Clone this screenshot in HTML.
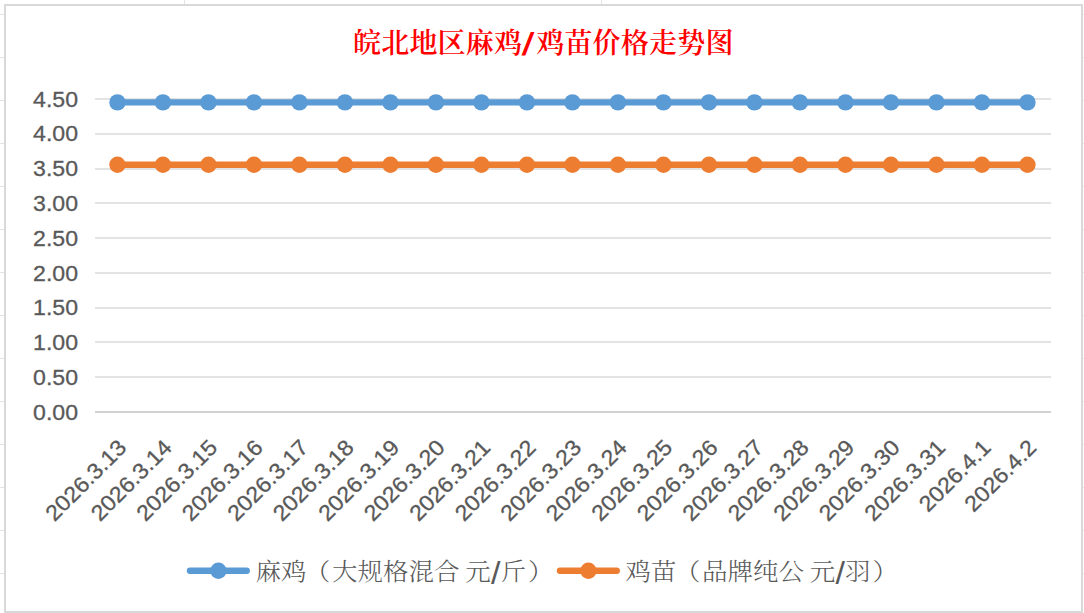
<!DOCTYPE html>
<html lang="zh-CN"><head><meta charset="utf-8"><title>皖北地区麻鸡/鸡苗价格走势图</title>
<style>html,body{margin:0;padding:0;background:#fff;overflow:hidden}svg{display:block}.ax{font-family:"Liberation Sans","Noto Sans CJK SC",sans-serif;fill:#595959;stroke:#595959;stroke-width:.3px}.ti{font-family:"Liberation Serif","Noto Serif CJK SC",serif;font-weight:600;fill:#FF0000}.sl{font-family:"Liberation Sans",sans-serif;font-weight:700;font-style:italic;font-size:32px}.lsl{font-family:"Liberation Sans",sans-serif;font-size:32px}.lg{font-family:"Liberation Serif","Noto Serif CJK SC",serif;font-weight:300;fill:#595959}</style></head><body>
<svg width="1084" height="613" viewBox="0 0 1084 613">
<rect x="0" y="0" width="1084" height="613" fill="#fff"/>
<g stroke="#E4E4E4" stroke-width="1" shape-rendering="crispEdges">
<line x1="0" y1="14.5" x2="1084" y2="14.5"/>
<line x1="0" y1="57.5" x2="1084" y2="57.5"/>
<line x1="0" y1="100.5" x2="1084" y2="100.5"/>
<line x1="0" y1="143.5" x2="1084" y2="143.5"/>
<line x1="0" y1="186.5" x2="1084" y2="186.5"/>
<line x1="0" y1="229.5" x2="1084" y2="229.5"/>
<line x1="0" y1="272.5" x2="1084" y2="272.5"/>
<line x1="0" y1="315.5" x2="1084" y2="315.5"/>
<line x1="0" y1="358.5" x2="1084" y2="358.5"/>
<line x1="0" y1="401.5" x2="1084" y2="401.5"/>
<line x1="0" y1="444.5" x2="1084" y2="444.5"/>
<line x1="0" y1="487.5" x2="1084" y2="487.5"/>
<line x1="0" y1="530.5" x2="1084" y2="530.5"/>
<line x1="0" y1="573.5" x2="1084" y2="573.5"/>
<line x1="0" y1="616.5" x2="1084" y2="616.5"/>
<line x1="184.5" y1="0" x2="184.5" y2="5"/>
<line x1="601.5" y1="0" x2="601.5" y2="5"/>
</g>
<rect x="5" y="5" width="1077" height="607" fill="#fff" stroke="#D9D9D9" stroke-width="2"/>
<g shape-rendering="crispEdges">
<rect x="95" y="411" width="956" height="2" fill="#D2D2D2"/>
<rect x="95" y="376" width="956" height="2" fill="#E3E3E3"/>
<rect x="95" y="341" width="956" height="2" fill="#E3E3E3"/>
<rect x="95" y="307" width="956" height="2" fill="#E3E3E3"/>
<rect x="95" y="272" width="956" height="2" fill="#E3E3E3"/>
<rect x="95" y="237" width="956" height="2" fill="#E3E3E3"/>
<rect x="95" y="202" width="956" height="2" fill="#E3E3E3"/>
<rect x="95" y="168" width="956" height="2" fill="#E3E3E3"/>
<rect x="95" y="133" width="956" height="2" fill="#E3E3E3"/>
<rect x="95" y="98" width="956" height="2" fill="#E3E3E3"/>
</g>
<g class="ax" font-size="22" text-anchor="end">
<text transform="translate(78.0 419.70) scale(1.050 1)">0.00</text>
<text transform="translate(78.0 384.92) scale(1.050 1)">0.50</text>
<text transform="translate(78.0 350.14) scale(1.050 1)">1.00</text>
<text transform="translate(78.0 315.36) scale(1.050 1)">1.50</text>
<text transform="translate(78.0 280.58) scale(1.050 1)">2.00</text>
<text transform="translate(78.0 245.80) scale(1.050 1)">2.50</text>
<text transform="translate(78.0 211.02) scale(1.050 1)">3.00</text>
<text transform="translate(78.0 176.24) scale(1.050 1)">3.50</text>
<text transform="translate(78.0 141.46) scale(1.050 1)">4.00</text>
<text transform="translate(78.0 106.68) scale(1.050 1)">4.50</text>
</g>
<g fill="#5B9BD5" stroke="none">
<line x1="117.45" y1="102.40" x2="1027.45" y2="102.40" stroke="#5B9BD5" stroke-width="6.40" stroke-linecap="round"/>
<circle cx="117.45" cy="102.40" r="8.20"/>
<circle cx="162.95" cy="102.40" r="8.20"/>
<circle cx="208.45" cy="102.40" r="8.20"/>
<circle cx="253.95" cy="102.40" r="8.20"/>
<circle cx="299.45" cy="102.40" r="8.20"/>
<circle cx="344.95" cy="102.40" r="8.20"/>
<circle cx="390.45" cy="102.40" r="8.20"/>
<circle cx="435.95" cy="102.40" r="8.20"/>
<circle cx="481.45" cy="102.40" r="8.20"/>
<circle cx="526.95" cy="102.40" r="8.20"/>
<circle cx="572.45" cy="102.40" r="8.20"/>
<circle cx="617.95" cy="102.40" r="8.20"/>
<circle cx="663.45" cy="102.40" r="8.20"/>
<circle cx="708.95" cy="102.40" r="8.20"/>
<circle cx="754.45" cy="102.40" r="8.20"/>
<circle cx="799.95" cy="102.40" r="8.20"/>
<circle cx="845.45" cy="102.40" r="8.20"/>
<circle cx="890.95" cy="102.40" r="8.20"/>
<circle cx="936.45" cy="102.40" r="8.20"/>
<circle cx="981.95" cy="102.40" r="8.20"/>
<circle cx="1027.45" cy="102.40" r="8.20"/>
</g>
<g fill="#ED7D31" stroke="none">
<line x1="117.45" y1="164.80" x2="1027.45" y2="164.80" stroke="#ED7D31" stroke-width="6.40" stroke-linecap="round"/>
<circle cx="117.45" cy="164.80" r="8.20"/>
<circle cx="162.95" cy="164.80" r="8.20"/>
<circle cx="208.45" cy="164.80" r="8.20"/>
<circle cx="253.95" cy="164.80" r="8.20"/>
<circle cx="299.45" cy="164.80" r="8.20"/>
<circle cx="344.95" cy="164.80" r="8.20"/>
<circle cx="390.45" cy="164.80" r="8.20"/>
<circle cx="435.95" cy="164.80" r="8.20"/>
<circle cx="481.45" cy="164.80" r="8.20"/>
<circle cx="526.95" cy="164.80" r="8.20"/>
<circle cx="572.45" cy="164.80" r="8.20"/>
<circle cx="617.95" cy="164.80" r="8.20"/>
<circle cx="663.45" cy="164.80" r="8.20"/>
<circle cx="708.95" cy="164.80" r="8.20"/>
<circle cx="754.45" cy="164.80" r="8.20"/>
<circle cx="799.95" cy="164.80" r="8.20"/>
<circle cx="845.45" cy="164.80" r="8.20"/>
<circle cx="890.95" cy="164.80" r="8.20"/>
<circle cx="936.45" cy="164.80" r="8.20"/>
<circle cx="981.95" cy="164.80" r="8.20"/>
<circle cx="1027.45" cy="164.80" r="8.20"/>
</g>
<g class="ax" font-size="22" text-anchor="end">
<text transform="translate(127.75 448.90) rotate(-45) scale(1.060 1)">2026.3.13</text>
<text transform="translate(173.25 448.90) rotate(-45) scale(1.060 1)">2026.3.14</text>
<text transform="translate(218.75 448.90) rotate(-45) scale(1.060 1)">2026.3.15</text>
<text transform="translate(264.25 448.90) rotate(-45) scale(1.060 1)">2026.3.16</text>
<text transform="translate(309.75 448.90) rotate(-45) scale(1.060 1)">2026.3.17</text>
<text transform="translate(355.25 448.90) rotate(-45) scale(1.060 1)">2026.3.18</text>
<text transform="translate(400.75 448.90) rotate(-45) scale(1.060 1)">2026.3.19</text>
<text transform="translate(446.25 448.90) rotate(-45) scale(1.060 1)">2026.3.20</text>
<text transform="translate(491.75 448.90) rotate(-45) scale(1.060 1)">2026.3.21</text>
<text transform="translate(537.25 448.90) rotate(-45) scale(1.060 1)">2026.3.22</text>
<text transform="translate(582.75 448.90) rotate(-45) scale(1.060 1)">2026.3.23</text>
<text transform="translate(628.25 448.90) rotate(-45) scale(1.060 1)">2026.3.24</text>
<text transform="translate(673.75 448.90) rotate(-45) scale(1.060 1)">2026.3.25</text>
<text transform="translate(719.25 448.90) rotate(-45) scale(1.060 1)">2026.3.26</text>
<text transform="translate(764.75 448.90) rotate(-45) scale(1.060 1)">2026.3.27</text>
<text transform="translate(810.25 448.90) rotate(-45) scale(1.060 1)">2026.3.28</text>
<text transform="translate(855.75 448.90) rotate(-45) scale(1.060 1)">2026.3.29</text>
<text transform="translate(901.25 448.90) rotate(-45) scale(1.060 1)">2026.3.30</text>
<text transform="translate(946.75 448.90) rotate(-45) scale(1.060 1)">2026.3.31</text>
<text transform="translate(992.25 448.90) rotate(-45) scale(1.060 1)">2026.4.1</text>
<text transform="translate(1037.75 448.90) rotate(-45) scale(1.060 1)">2026.4.2</text>
</g>
<text class="ti" font-size="28" y="52.50"><tspan x="353.0 381.2 409.4 437.6 465.8 494.0">皖北地区麻鸡</tspan><tspan class="sl" x="522.7" dy="2.6">/</tspan><tspan x="536.2 564.4 592.6 620.8 649.0 677.2 705.4" dy="-2.6">鸡苗价格走势图</tspan></text>
<line x1="190.00" y1="570.8" x2="246.70" y2="570.8" stroke="#5B9BD5" stroke-width="6.40" stroke-linecap="round"/>
<circle cx="218.40" cy="570.8" r="8.20" fill="#5B9BD5"/>
<text class="lg" font-size="24.0" text-anchor="middle" transform="translate(0 580.00) scale(1.0625 1)"><tspan x="252.47 276.47 298.78 324.47 348.47 372.47 396.47 420.47 435.18 449.89">麻鸡（大规格混合 元</tspan><tspan class="lsl" x="466.53" dy="3.6">/</tspan><tspan x="483.16 509.04" dy="-3.6">斤）</tspan></text>
<line x1="560.00" y1="570.8" x2="616.70" y2="570.8" stroke="#ED7D31" stroke-width="6.40" stroke-linecap="round"/>
<circle cx="588.40" cy="570.8" r="8.20" fill="#ED7D31"/>
<text class="lg" font-size="24.0" text-anchor="middle" transform="translate(0 580.00) scale(1.0625 1)"><tspan x="600.71 624.71 647.01 672.71 696.71 720.71 744.71 759.42 774.13">鸡苗（品牌纯公 元</tspan><tspan class="lsl" x="790.76" dy="3.6">/</tspan><tspan x="807.39 833.28" dy="-3.6">羽）</tspan></text>
</svg></body></html>
